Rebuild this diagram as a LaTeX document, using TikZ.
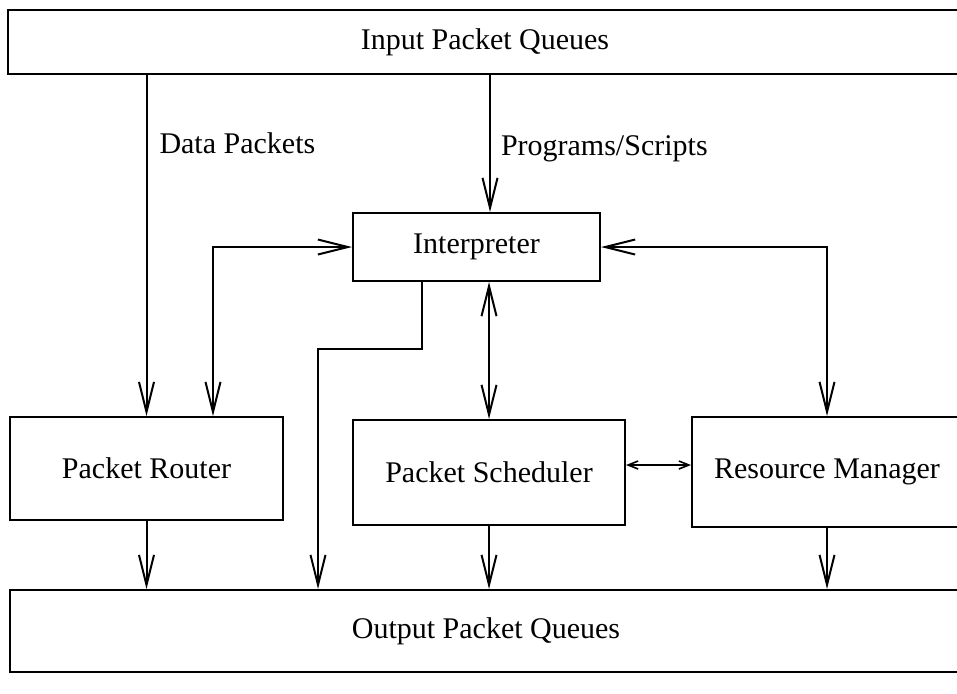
\documentclass[tikz,border=0pt]{standalone}
\usepackage{fontspec}
\setmainfont{Liberation Serif}
\usetikzlibrary{arrows.meta}
\begin{document}
\begin{tikzpicture}[x=0.5pt,y=-0.5pt,
  box/.style={draw,line width=1pt,inner sep=0pt,font=\fontsize{15}{17}\selectfont},
  lbl/.style={font=\fontsize{15}{17}\selectfont,inner sep=0pt,anchor=west},
  conn/.style={line width=1pt},
  arr/.style={conn,-{Straight Barb[length=15pt,width=7.5pt,line width=1pt]}},
  darr/.style={conn,{Straight Barb[length=15pt,width=7.5pt,line width=1pt]}-{Straight Barb[length=15pt,width=7.5pt,line width=1pt]}},
  sarr/.style={line width=0.8pt,{Straight Barb[length=5pt,width=4pt,line width=0.8pt]}-{Straight Barb[length=5pt,width=4pt,line width=0.8pt]}}]
\useasboundingbox (0,0) rectangle (957,693);
% boxes
\node[box,minimum width=477pt,minimum height=32pt] (inq) at (485,42) {Input Packet Queues};
\node[box,minimum width=123.5pt,minimum height=34pt] (interp) at (476.5,247) {Interpreter};
\node[box,minimum width=136.5pt,minimum height=51.5pt] (router) at (146.5,468.5) {Packet Router};
\node[box,minimum width=136pt,minimum height=52.5pt] (sched) at (489,472.5) {Packet Scheduler};
\node[box,minimum width=135pt,minimum height=55pt] (rm) at (827,472) {Resource Manager};
\node[box,minimum width=476pt,minimum height=41pt] (outq) at (486,631) {Output Packet Queues};
% helper coordinates
\coordinate (ps) at (490,0);
\coordinate (lx) at (213,0);
\coordinate (b1) at (422,349);
\coordinate (b2) at (318,349);
\coordinate (ss) at (0,465);
% connectors
\draw[arr] (inq.south -| router.north) -- node[pos=0.2,lbl,right=6pt] {Data Packets} (router.north);
\draw[arr] (inq.south -| ps) -- node[pos=0.54,lbl,right=5pt] {Programs/Scripts} (interp.north -| ps);
\draw[darr] (interp.west) -| (router.north -| lx);
\draw[darr] (interp.east) -| (rm.north);
\draw[arr] (interp.south -| b1) -- (b1) -- (b2) -- (outq.north -| b2);
\draw[darr] (interp.south -| sched.north) -- (sched.north);
\draw[sarr] (sched.east |- ss) -- (rm.west |- ss);
\draw[arr] (router.south) -- (outq.north -| router.south);
\draw[arr] (sched.south) -- (outq.north -| sched.south);
\draw[arr] (rm.south) -- (outq.north -| rm.south);
\end{tikzpicture}
\end{document}
